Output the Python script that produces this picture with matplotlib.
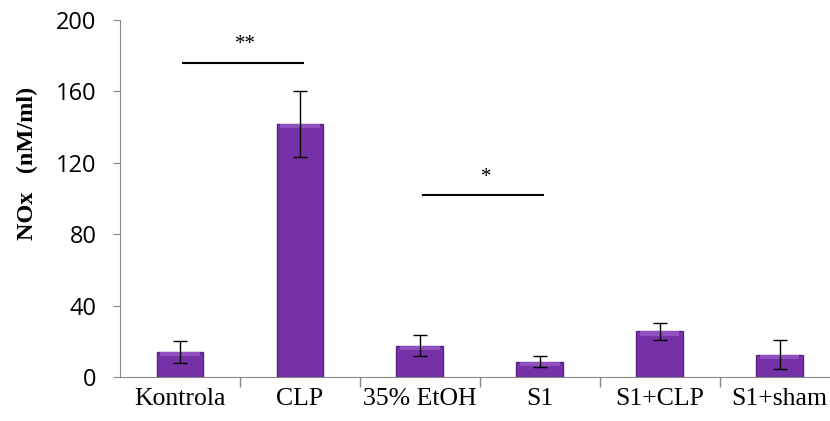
import numpy as np
import matplotlib
matplotlib.use('Agg')
import matplotlib.pyplot as plt

#- Data
groups = ['Kontrola', 'CLP', '35% EtOH', 'S1', 'S1+CLP', 'S1+sham']
nox_mean = [14, 142, 17.5, 8.5, 25.5, 12.5]
nox_err = [6, 18.5, 6, 3, 5, 8]

#- significance brackets: (start group, end group, line height, label)
sig_pairs = [(0, 1, 176, '**'), (2, 3, 102, '*')]

x = np.arange(len(groups))

fig = plt.figure(figsize=(8.3, 4.21), dpi=100)
ax = fig.add_axes([120/830, 1 - 377/421, 710/830, 357/421])

ax.bar(x, nox_mean, width=0.39, color='#7631A6', edgecolor='#5A2282', linewidth=1.0, zorder=2)
# lighter top face of the bevelled bars
ax.bar(x, [2.5] * len(x), bottom=[m - 2.5 for m in nox_mean], width=0.33,
       color='#9150C0', linewidth=0, zorder=3)
ax.errorbar(x, nox_mean, yerr=nox_err, fmt='none', ecolor='black', elinewidth=1,
            capsize=5, capthick=1, zorder=4)

for g0, g1, h, lab in sig_pairs:
    ax.plot([g0 + 0.025, g1 + 0.025], [h, h], color='black', lw=1.5, zorder=4)
    ax.text((g0 + g1) / 2 + 0.05, h + 10, lab, ha='center', va='center', fontsize=15,
            family='Liberation Serif')

ax.set_xlim(-0.5, 5.42)
ax.set_ylim(0, 200)
ax.set_yticks([0, 40, 80, 120, 160, 200])
ax.set_xticks(x)
ax.set_xticklabels(groups, family='Liberation Serif', fontsize=18.5)
ax.set_xticks(np.arange(0.5, 5.0, 1), minor=True)
ax.tick_params(axis='x', which='major', length=0, pad=8)
ax.tick_params(axis='x', which='minor', length=7, color='#868686', width=1)
ax.tick_params(axis='y', length=5, color='#868686', labelsize=17, pad=12)
for lbl in ax.get_yticklabels():
    lbl.set_family('Open Sans')

ax.set_ylabel('NOx   (nM/ml)', family='Liberation Serif', fontweight='bold', fontsize=17.5)
ax.yaxis.set_label_coords(-0.115, 0.597)

for s in ['top', 'right']:
    ax.spines[s].set_visible(False)
ax.spines['left'].set_color('#868686')
ax.spines['bottom'].set_color('#868686')

fig.savefig('out.png', dpi=100)
